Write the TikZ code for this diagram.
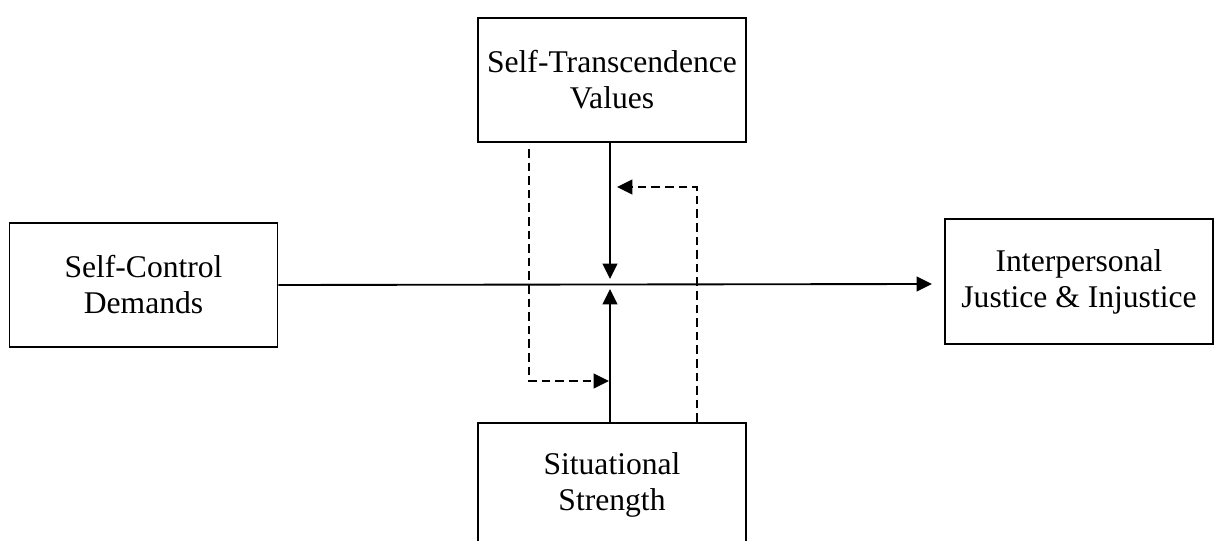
\documentclass[tikz,border=0pt]{standalone}
\usepackage{fontspec}
\setmainfont{Liberation Serif}
\usetikzlibrary{arrows.meta}
\tikzset{
  box/.style={draw, line width=1.4pt, minimum width=201pt, minimum height=93pt,
    align=center, inner sep=0pt, font=\fontsize{23.7pt}{27pt}\selectfont},
  link/.style={line width=1.4pt, -{Triangle[length=11.5pt,width=11pt]}},
  dlink/.style={link, dash pattern=on 6.5pt off 3.7pt, line width=1.25pt}
}
\begin{document}
\begin{tikzpicture}[x=0.75pt,y=-0.75pt]
  \useasboundingbox (0,0) rectangle (1214,541);
  \clip (0,0) rectangle (1214,541);
  % boxes
  \node[box] (stv) at (612,80) {Self-Transcendence\\Values};
  \node[box] (scd) at (143.5,285) {Self-Control\\Demands};
  \node[box, minimum height=93.75pt] (ij) at (1079,281.5) {Interpersonal\\Justice \& Injustice};
  \node[box] (ss) at (612,485) {Situational\\Strength};
  % meeting points
  \coordinate (mainEnd) at (932,284);
  \coordinate (downTip) at (610,279);
  \coordinate (upTip) at (610,289);
  \coordinate (dlTop) at (529,149);
  \coordinate (dlBend) at (529,381);
  \coordinate (dlTip) at (609,381);
  \coordinate (drBend) at (697,187);
  \coordinate (drTip) at (617,187);
  % main path
  \draw[link] (scd.east |- 0,285) -- (mainEnd);
  % moderators
  \draw[link] (stv.south -| downTip) -- (downTip);
  \draw[link] (ss.north -| upTip) -- (upTip);
  % dashed paths
  \draw[dlink] (dlTop) -- (dlBend) -- (dlTip);
  \draw[dlink] (ss.north -| drBend) -- (drBend) -- (drTip);
\end{tikzpicture}
\end{document}
